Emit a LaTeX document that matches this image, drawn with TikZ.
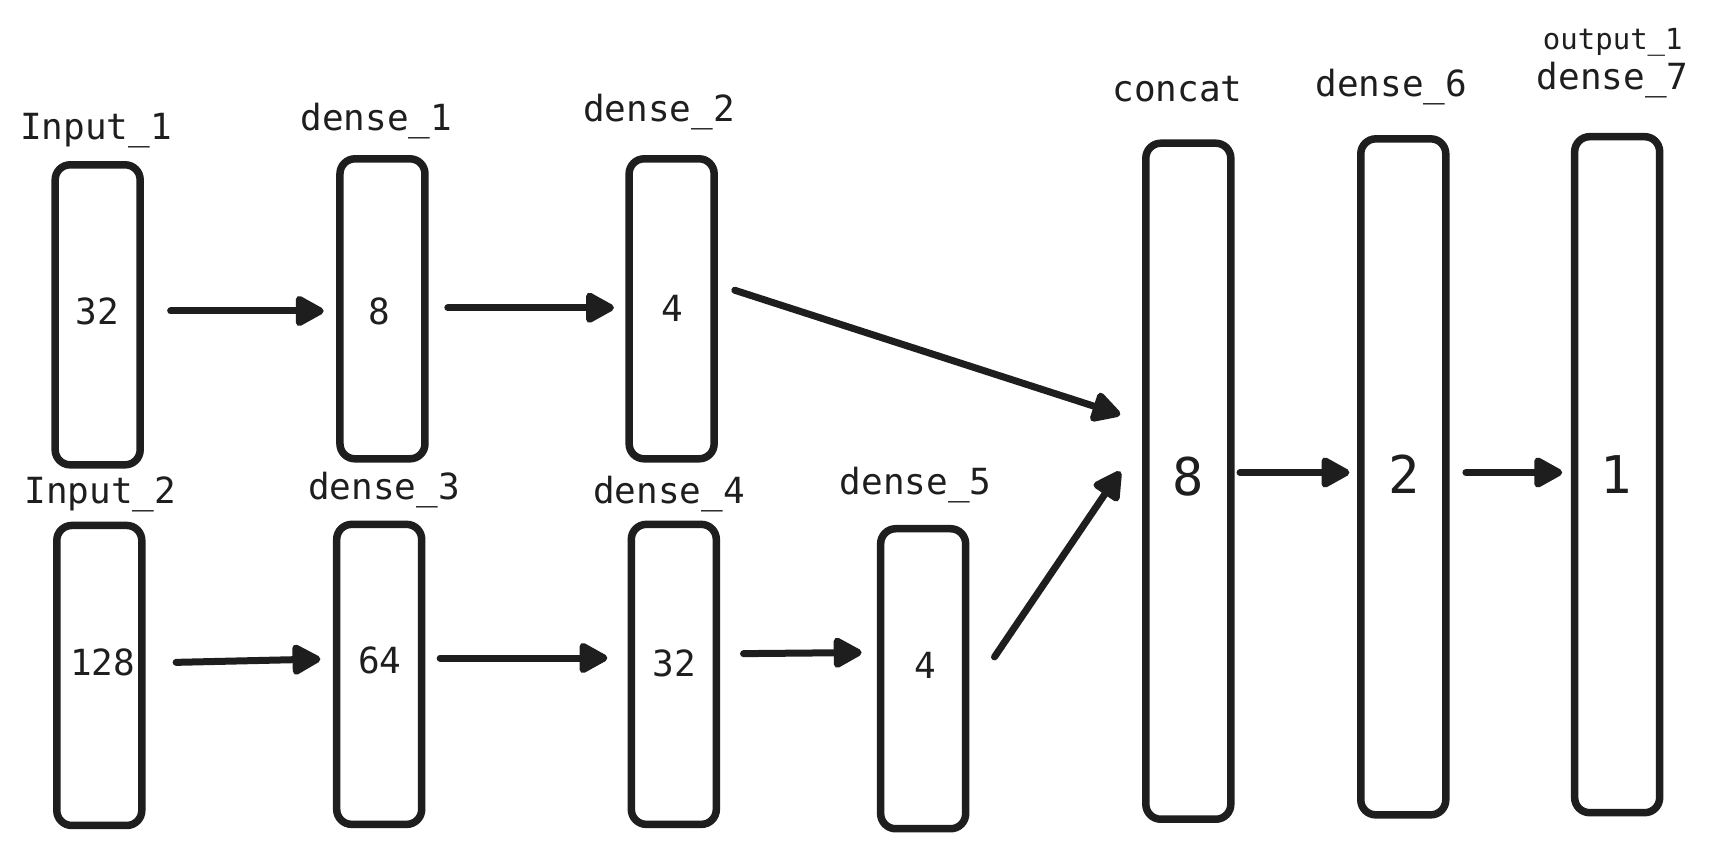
\documentclass[tikz,border=0pt]{standalone}
\usepackage{fontspec}
\setmonofont{DejaVu Sans Mono}
\usetikzlibrary{arrows.meta,calc}
\definecolor{ink}{HTML}{1E1E1E}
\begin{document}
\begin{tikzpicture}[x=1.0912pt,y=-1.0912pt,
  layer/.style={draw=ink, line width=7.5pt, rounded corners=15pt, minimum width=85pt, minimum height=300pt, inner sep=0pt},
  tallayer/.style={layer, minimum height=676pt},
  lbl/.style={anchor=base, text=ink, font=\ttfamily\fontsize{36}{40}\selectfont, inner sep=0pt},
  smalllbl/.style={lbl, font=\ttfamily\fontsize{29}{32}\selectfont},
  num/.style={text=ink, font=\ttfamily\fontsize{36}{40}\selectfont, inner sep=0pt},
  bignum/.style={text=ink, font=\ttfamily\fontsize{52}{56}\selectfont, inner sep=0pt},
  arr/.style={draw=ink, line width=7pt, line cap=round, -{Triangle[length=32pt,width=33pt,round]}}
]
\fill[white] (0,0) rectangle (1568,779);
\useasboundingbox (0,0) rectangle (1568,779);

% layers
\node[layer] (in1) at (89.5,288.5) {};
\node[layer] (d1) at (350.5,283) {};
\node[layer] (d2) at (615.5,283) {};
\node[layer] (in2) at (91,619) {};
\node[layer] (d3) at (347.5,618) {};
\node[layer] (d4) at (617.5,618) {};
\node[layer] (d5) at (846,622) {};
\node[tallayer] (cc) at (1089,441) {};
\node[tallayer] (d6) at (1286,437) {};
\node[tallayer] (d7) at (1482,435) {};

% sizes
\node[num] (n1) at (89,285) {32};
\node[num] (n2) at (348,285) {8};
\node[num] (n3) at (616,283) {4};
\node[num] (n4) at (94,607) {128};
\node[num] (n5) at (348,605) {64};
\node[num] (n6) at (618,608) {32};
\node[num] (n7) at (848,610) {4};
\node[bignum] (n8) at (1089,437) {8};
\node[bignum] (n9) at (1287,435) {2};
\node[bignum] (n10) at (1481,435) {1};

% labels
\node[lbl] (t1) at (88,128) {Input\_1};
\node[lbl] (t2) at (345,120) {dense\_1};
\node[lbl] (t3) at (604,111) {dense\_2};
\node[lbl] (t4) at (92,461) {Input\_2};
\node[lbl] (t5) at (352,458) {dense\_3};
\node[lbl] (t6) at (613,461) {dense\_4};
\node[lbl] (t7) at (839,453) {dense\_5};
\node[lbl] (t8) at (1079,93) {concat};
\node[lbl] (t9) at (1275,88) {dense\_6};
\node[smalllbl] (t10) at (1478,45) {output\_1};
\node[lbl] (t11) at (1478,82) {dense\_7};

% connectors
\draw[arr] ($(in1.east)+(24.5,-3.5)$) -- ($(d1.west)+(-11.5,2)$);
\draw[arr] ($(d1.east)+(17.5,-1)$) -- ($(d2.west)+(-10.5,-1)$);
\draw[arr] ($(d2.east)+(15.5,-17)$) -- ($(cc.west)+(-20,-61)$);
\draw[arr] ($(in2.east)+(28,-12)$) -- ($(d3.west)+(-11.5,-14)$);
\draw[arr] ($(d3.east)+(13.5,-15)$) -- ($(d4.west)+(-18.5,-15)$);
\draw[arr] ($(d4.east)+(21.5,-19)$) -- ($(d5.west)+(-14,-24)$);
\draw[arr] ($(d5.east)+(23,-20)$) -- ($(cc.west)+(-20,-9)$);
\draw[arr] ($(cc.east)+(5,-8)$) -- ($(d6.west)+(-7,-4)$);
\draw[arr] ($(d6.east)+(15,-4)$) -- ($(d7.west)+(-8,-2)$);
\end{tikzpicture}
\end{document}
